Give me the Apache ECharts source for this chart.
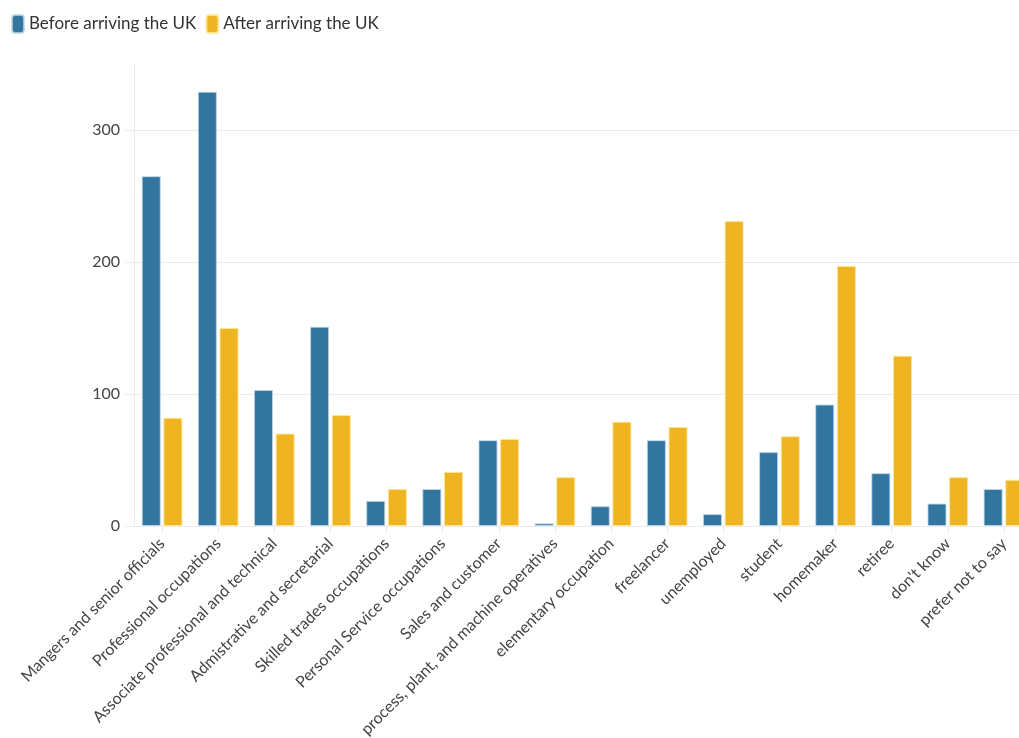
<!DOCTYPE html>
<html>
<head>
<meta charset="utf-8">
<script src="https://cdn.jsdelivr.net/npm/echarts@6/dist/echarts.min.js"></script>
<style>
html,body{margin:0;padding:0;background:#fff;}
#chart{width:1019px;height:738px;}
</style>
</head>
<body>
<div id="chart"></div>
<script>
const categories = [
  "Mangers and senior officials",
  "Professional occupations",
  "Associate professional and technical",
  "Admistrative and secretarial",
  "Skilled trades occupations",
  "Personal Service occupations",
  "Sales and customer",
  "process, plant, and machine operatives",
  "elementary occupation",
  "freelancer",
  "unemployed",
  "student",
  "homemaker",
  "retiree",
  "don't know",
  "prefer not to say"
];
const beforeUK = [265, 329, 103, 151, 19, 28, 65, 2, 15, 65, 9, 56, 92, 40, 17, 28];
const afterUK = [82, 150, 70, 84, 28, 41, 66, 37, 79, 75, 231, 68, 197, 129, 37, 35];
const seriesNames = ["Before arriving the UK", "After arriving the UK"];
const yTicks = [0, 100, 200, 300];

const FONT = 'Lato';
const chart = echarts.init(document.getElementById('chart'), null, {renderer: 'canvas'});
chart.setOption({
  animation: false,
  backgroundColor: '#ffffff',
  textStyle: {fontFamily: FONT},
  color: ['#32769f', '#eeb422'],
  legend: {
    left: 6,
    top: 9,
    itemWidth: 12,
    itemHeight: 18,
    itemGap: 9,
    icon: 'roundRect',
    textStyle: {fontFamily: FONT, fontSize: 17, color: '#333'},
    data: seriesNames
  },
  grid: {left: 134, right: -13, top: 64, bottom: 212, containLabel: false, outerBoundsMode: 'none'},
  xAxis: {
    type: 'category',
    data: categories,
    axisLine: {show: true, lineStyle: {color: '#ececec', width: 1}},
    axisTick: {show: true, alignWithLabel: true, length: 7, lineStyle: {color: '#e6e6e6'}},
    axisLabel: {rotate: 45, interval: 0, margin: 15, fontSize: 16, color: '#444', fontFamily: FONT}
  },
  yAxis: {
    type: 'value',
    min: yTicks[0],
    max: 350,
    interval: 100,
    axisLine: {show: true, lineStyle: {color: '#ececec'}},
    axisTick: {show: true, length: 9, lineStyle: {color: '#ececec'}},
    axisLabel: {showMaxLabel: false, margin: 14, fontSize: 16, color: '#444', fontFamily: FONT},
    splitLine: {show: true, showMaxLine: false, lineStyle: {color: '#ececec'}}
  },
  series: [
    {
      name: seriesNames[0], type: 'bar', data: beforeUK,
      barWidth: 19, barGap: '14%',
      itemStyle: {color: '#32769f', borderColor: 'rgba(190,215,230,0.8)', borderWidth: 1}
    },
    {
      name: seriesNames[1], type: 'bar', data: afterUK,
      barWidth: 19,
      itemStyle: {color: '#eeb422', borderColor: 'rgba(255,230,150,0.9)', borderWidth: 1}
    }
  ]
});
</script>
</body>
</html>
